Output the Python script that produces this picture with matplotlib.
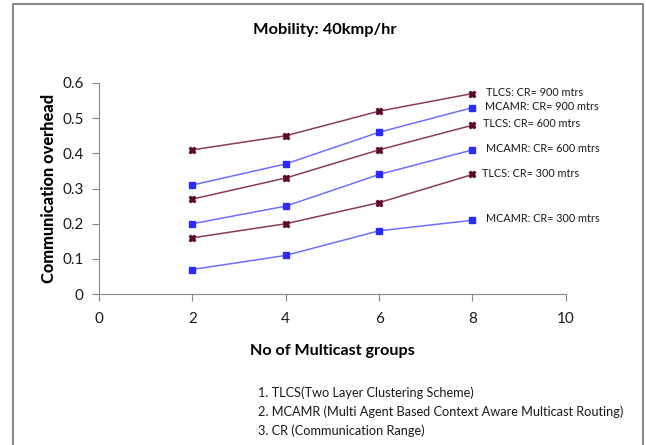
import matplotlib
matplotlib.use("Agg")
import matplotlib.pyplot as plt
from matplotlib.lines import Line2D

plt.rcParams['font.family'] = ['Lato', 'DejaVu Sans']

groups = [2, 4, 6, 8]
tlcs_900 = [0.41, 0.45, 0.52, 0.57]
mcamr_900 = [0.31, 0.37, 0.46, 0.53]
tlcs_600 = [0.27, 0.33, 0.41, 0.48]
mcamr_600 = [0.20, 0.25, 0.34, 0.41]
tlcs_300 = [0.16, 0.20, 0.26, 0.34]
mcamr_300 = [0.07, 0.11, 0.18, 0.21]

series = [
    ("TLCS: CR= 900 mtrs", tlcs_900, "tlcs"),
    ("MCAMR: CR= 900 mtrs", mcamr_900, "mcamr"),
    ("TLCS: CR= 600 mtrs", tlcs_600, "tlcs"),
    ("MCAMR: CR= 600 mtrs", mcamr_600, "mcamr"),
    ("TLCS: CR= 300 mtrs", tlcs_300, "tlcs"),
    ("MCAMR: CR= 300 mtrs", mcamr_300, "mcamr"),
]
label_dx = [14, 13, 11, 14, 10, 14]

notes = ["1. TLCS(Two Layer Clustering Scheme)",
         "2. MCAMR (Multi Agent Based Context Aware Multicast Routing)",
         "3. CR (Communication Range)"]

fig = plt.figure(figsize=(6.46, 4.45), dpi=100)
ax = fig.add_axes([0.153, 0.339, 0.723, 0.4745])

for (name, vals, kind), dx in zip(series, label_dx):
    if kind == "tlcs":
        ax.plot(groups, vals, color="#8a3a5e", lw=1.1, marker="X", ms=5,
                mfc="#5c0a2e", mec="#5c0a2e")
    else:
        ax.plot(groups, vals, color="#6f6fff", lw=1.1, marker="s", ms=3.8,
                mfc="#2b2bff", mec="#2b2bff")
    ax.annotate(name, (groups[-1], vals[-1]), xytext=(dx * 0.72, 1),
                textcoords="offset points", va="center", ha="left",
                fontsize=7.8, color="#1a1a1a")

ax.set_xlim(0, 10)
ax.set_ylim(0, 0.6)
ax.set_xticks([0, 2, 4, 6, 8, 10])
ax.set_yticks([0, 0.1, 0.2, 0.3, 0.4, 0.5, 0.6])
ax.set_yticklabels(["0", "0.1", "0.2", "0.3", "0.4", "0.5", "0.6"])
for s in ["top", "right"]:
    ax.spines[s].set_visible(False)
for s in ["left", "bottom"]:
    ax.spines[s].set_color("#888888")
ax.tick_params(colors="#888888", labelcolor="#1a1a1a", labelsize=11, length=5)
ax.tick_params(axis="x", pad=8)
ax.tick_params(axis="y", pad=6)
ax.set_xlabel("No of Multicast groups", fontsize=11.6, fontweight="bold", labelpad=13)
ax.set_ylabel("Communication overhead", fontsize=11.8, fontweight="black", labelpad=4)

fig.text(0.503, 0.932, "Mobility: 40kmp/hr", ha="center", va="center",
         fontsize=11.8, fontweight="bold")

for i, t in enumerate(notes):
    fig.text(0.399, 1 - (393 + 19 * i) / 445, t, ha="left", va="center",
             fontsize=9.2, color="#1a1a1a")

# outer frame (left, top, right)
fig.add_artist(Line2D([13 / 646, 13 / 646, 643 / 646, 643 / 646],
                      [0, 1 - 4 / 445, 1 - 4 / 445, 0],
                      transform=fig.transFigure, color="#888888", lw=1.5))

fig.savefig("out.png", dpi=100)
